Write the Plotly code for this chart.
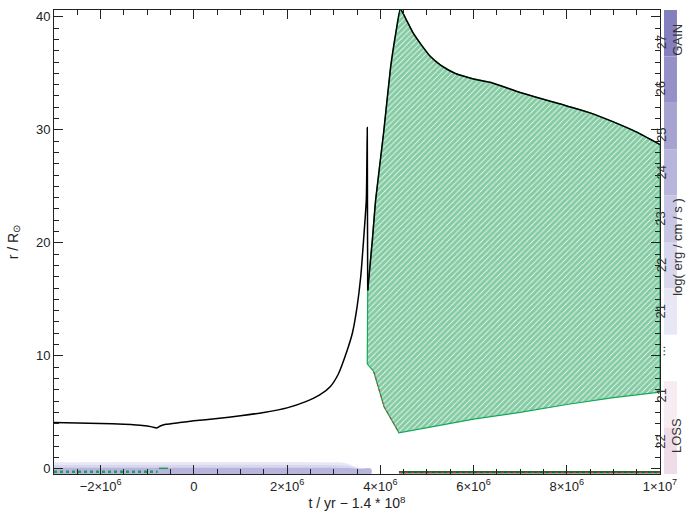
import plotly.graph_objects as go

# ---- data (time in units of 1e6 yr, radius in R_sun) ----
surf_t = [-3.0, -2.5, -2.0, -1.5, -1.1, -0.9, -0.8, -0.72, -0.6, -0.3, 0.0, 0.5, 1.0, 1.5, 2.0,
          2.4, 2.7, 2.93, 3.1, 3.29, 3.4, 3.5, 3.58, 3.64, 3.70, 3.72, 3.725, 3.73]
surf_r = [4.1, 4.07, 4.02, 3.95, 3.85, 3.72, 3.62, 3.8, 3.95, 4.1, 4.25, 4.45, 4.7, 5.0, 5.4,
          5.95, 6.55, 7.3, 8.4, 10.5, 12.0, 14.3, 17.0, 20.2, 23.8, 30.2, 22.0, 15.8]

# convective envelope: upper edge (surface) and lower edge
conv_top_t = [3.73, 3.83, 3.9, 4.07, 4.22, 4.33, 4.43, 4.55, 4.7, 4.9, 5.07, 5.3, 5.6, 6.0, 6.36,
              7.0, 7.5, 7.9, 8.0, 8.1, 8.5, 9.0, 9.5, 10.0]
conv_top_r = [15.8, 20.2, 23.8, 29.7, 35.5, 38.5, 40.7, 39.8, 38.6, 37.4, 36.5, 35.7, 35.0, 34.5, 34.2,
              33.3, 32.7, 32.25, 32.1, 32.0, 31.5, 30.7, 29.8, 28.7]
conv_bot_t = [3.73, 3.72, 3.86, 4.08, 4.40, 5.07, 6.0, 7.0, 8.0, 9.0, 10.0]
conv_bot_r = [15.8, 9.3, 8.6, 5.5, 3.2, 3.7, 4.4, 5.0, 5.7, 6.3, 6.8]

# core burning / energy generation band near the centre
band_t = [-3.0, 2.8, 3.1, 3.3, 3.45, 3.6, 3.8]
band_top_light = [0.6, 0.6, 0.58, 0.45, 0.22, 0.06, 0.0]
band_top_mid = [0.35, 0.35, 0.33, 0.26, 0.12, 0.03, 0.0]
band_top_dark = [0.1, 0.1, 0.09, 0.07, 0.04, 0.01, 0.0]
band_floor = -0.45

core_conv_t = [-3.0, -0.78]
core_conv_r = [-0.25, -0.25]
small_conv_t = [-0.75, -0.5]
small_conv_r = [0.05, 0.05]
late_core_t = [4.4, 10.0]
late_core_r = [-0.3, -0.3]

# colour bar
cbar_labels = ["27", "26", "25", "24", "23", "22", "21", "...", "21", "22"]
cbar_colors = ["rgb(132,128,190)", "rgb(149,145,199)", "rgb(166,163,209)", "rgb(183,181,219)",
               "rgb(200,198,229)", "rgb(216,215,238)", "rgb(232,231,246)", "rgb(255,255,255)",
               "rgb(248,236,243)", "rgb(239,220,233)"]

x_tickvals = [-2e6, 0, 2e6, 4e6, 6e6, 8e6, 1e7]
x_ticktext = ["\u22122\u00d710<sup>6</sup>", "0", "2\u00d710<sup>6</sup>", "4\u00d710<sup>6</sup>",
              "6\u00d710<sup>6</sup>", "8\u00d710<sup>6</sup>", "1\u00d710<sup>7</sup>"]
y_tickvals = [0, 10, 20, 30, 40]

S = 1e6
fig = go.Figure()

# bottom energy-generation band (layered)
for tops, col in [(band_top_light, cbar_colors[6]), (band_top_mid, cbar_colors[5]),
                  (band_top_dark, cbar_colors[3])]:
    xs = [t * S for t in band_t] + [t * S for t in band_t[::-1]]
    ys = tops + [band_floor] * len(band_t)
    fig.add_trace(go.Scatter(x=xs, y=ys, fill="toself", fillcolor=col, mode="none",
                             line_shape="spline", hoverinfo="skip", showlegend=False))

# core convection
fig.add_trace(go.Scatter(x=[t * S for t in core_conv_t], y=core_conv_r, mode="lines",
                         line=dict(color="#1a9f55", width=2.5, dash="dot"), showlegend=False))
fig.add_trace(go.Scatter(x=[t * S for t in small_conv_t], y=small_conv_r, mode="lines",
                         line=dict(color="#1a9f55", width=1.5, dash="dash"), showlegend=False))
fig.add_trace(go.Scatter(x=[t * S for t in late_core_t], y=late_core_r, mode="lines",
                         line=dict(color="#0e6b35", width=2.5), showlegend=False))
fig.add_trace(go.Scatter(x=[t * S for t in late_core_t], y=late_core_r, mode="lines",
                         line=dict(color="#d03030", width=1.2, dash="dot"), showlegend=False))

# convective envelope (hatched)
env_x = [t * S for t in conv_top_t] + [t * S for t in conv_bot_t[::-1]]
env_y = conv_top_r + conv_bot_r[::-1]
fig.add_trace(go.Scatter(x=env_x, y=env_y, fill="toself", mode="lines",
                         line=dict(color="#14a858", width=1.2),
                         fillcolor="rgba(255,255,255,0)",
                         fillpattern=dict(shape="/", fgcolor="#0a9848", bgcolor="white",
                                          size=4, solidity=0.8),
                         hoverinfo="skip", showlegend=False))
# red fringe on lower boundary
fig.add_trace(go.Scatter(x=[t * S for t in conv_bot_t[2:5]], y=conv_bot_r[2:5], mode="lines",
                         line=dict(color="#d03030", width=1, dash="dot"), showlegend=False))

# surface radius
fig.add_trace(go.Scatter(x=[t * S for t in surf_t], y=surf_r, mode="lines",
                         line=dict(color="black", width=1.5, shape="spline", smoothing=0.5),
                         showlegend=False))
fig.add_trace(go.Scatter(x=[t * S for t in conv_top_t], y=conv_top_r, mode="lines",
                         line=dict(color="black", width=1.5, shape="spline", smoothing=0.5),
                         showlegend=False))

# colour bar (paper coordinates)
shapes = []
annotations = []
n = len(cbar_labels)
for i, (lab, col) in enumerate(zip(cbar_labels, cbar_colors)):
    y1 = 1 - i / n
    y0 = 1 - (i + 1) / n
    shapes.append(dict(type="rect", xref="paper", yref="paper", x0=1.0066, x1=1.028,
                       y0=y0, y1=y1, fillcolor=col, line=dict(width=0), layer="above"))
    annotations.append(dict(xref="paper", yref="paper", x=1.0173, y=(y0 + y1) / 2, text=lab,
                            showarrow=False, textangle=-90,
                            font=dict(size=13, color="#333", family="Liberation Sans")))
for txt, yy in [("GAIN", 0.975), ("LOSS", 0.04), ("log( erg / cm / s )", 0.49)]:
    annotations.append(dict(xref="paper", yref="paper", x=1.044, y=yy, text=txt,
                            showarrow=False, textangle=-90,
                            font=dict(size=13, color="#333", family="Liberation Sans")))

axis_common = dict(showline=True, linecolor="#222", linewidth=1, mirror="ticks",
                   ticks="inside", tickcolor="#222", showgrid=False, zeroline=False,
                   automargin=False,
                   tickfont=dict(size=13, color="#222", family="Liberation Sans"))

fig.update_layout(
    width=692, height=516,
    margin=dict(l=54, r=32, t=10, b=42),
    plot_bgcolor="white", paper_bgcolor="white",
    font=dict(family="Liberation Sans", color="#222"),
    shapes=shapes, annotations=annotations,
    xaxis=dict(range=[-3e6, 1e7], tickvals=x_tickvals, ticktext=x_ticktext, ticklen=9,
               minor=dict(ticks="inside", dtick=5e5, ticklen=5, tickcolor="#222"),
               title=dict(text="t / yr \u2212 1.4 * 10<sup>8</sup>", standoff=4,
                          font=dict(size=14, family="Liberation Sans")),
               **axis_common),
    yaxis=dict(range=[-0.45, 40.6], tickvals=y_tickvals, ticklen=9,
               minor=dict(ticks="inside", dtick=1, ticklen=5, tickcolor="#222"),
               title=dict(text="r / R<sub>\u2299</sub>", standoff=14,
                          font=dict(size=14, family="Liberation Sans")),
               **axis_common),
)

fig.write_html("out.html", config={"displayModeBar": False},
               post_script="document.body.style.margin='0px';")
